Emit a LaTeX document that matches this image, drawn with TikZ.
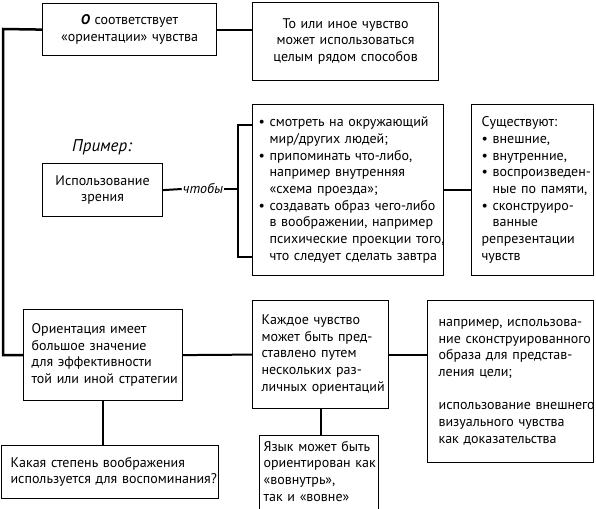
\documentclass[tikz,border=0pt]{standalone}
\usepackage{fontspec}
\setmainfont{PT Sans}
\usetikzlibrary{calc}
\tikzset{
  box/.style={draw, line width=1.2pt, inner ysep=4pt, anchor=north west,
    font=\fontsize{14}{16.7}\selectfont},
  link/.style={line width=2pt},
  trunk/.style={line width=2.5pt},
}
\def\bul{\textbullet\ }
\def\ind{\phantom{\textbullet\ }}
\newcommand\llines[1]{\begin{tabular}{@{}l@{}}#1\end{tabular}}
\newcommand\clines[1]{\begin{tabular}{@{}c@{}}#1\end{tabular}}

\begin{document}
\begin{tikzpicture}[x=1pt,y=-1pt]
			%%%%% START %%%%%
			\useasboundingbox (0,0) rectangle (596,508);

			\node[box, align=center, inner xsep=5pt, minimum width=174pt, minimum height=52pt, text width=164pt] (sense) at (42,3)
				{\clines{\textbf{\textit{О}} соответствует\\«ориентации» чувства}};
			\node[box, align=center, inner xsep=5pt, minimum width=186pt, minimum height=78pt, text width=176pt] (ways) at (252,2)
				{\clines{То или иное чувство\\может использоваться\\целым рядом способов}};

			\node[font=\fontsize{17}{18}\selectfont\itshape] (example) at (102,147) {Пример:};
			\node[box, align=center, inner xsep=5pt, minimum width=120pt, minimum height=53pt, text width=110pt] (sight) at (42,163)
				{\clines{Использование\\зрения}};
			\node[font=\fontsize{14}{16}\selectfont\itshape, inner sep=1pt] (sothat) at (203,189) {чтобы};

			\node[box, align=left, inner xsep=6pt, minimum width=191pt, minimum height=171pt, text width=179pt] (uses) at (252,104)
				{\llines{\bul смотреть на окружающий\\\ind мир/других людей;\\\bul припоминать что-либо,\\\ind например внутренняя\\\ind «схема проезда»;\\\bul создавать образ чего-либо\\\ind в воображении, например\\\ind психические проекции того,\\\ind что следует сделать завтра}};
			\node[box, align=left, inner xsep=10pt, minimum width=122pt, minimum height=171pt, text width=102pt] (kinds) at (471,104)
				{\llines{Существуют:\\\bul внешние,\\\bul внутренние,\\\bul воспроизведен-\\\ind ные по памяти,\\\bul сконструиро-\\\ind ванные\\репрезентации\\чувств}};

			\node[box, align=left, inner xsep=8pt, minimum width=159pt, minimum height=91pt, text width=143pt] (orient) at (23,309)
				{\llines{Ориентация имеет\\большое значение\\для эффективности\\той или иной стратегии}};
			\node[box, align=left, inner xsep=9pt, minimum width=136pt, minimum height=108pt, text width=118pt] (each) at (252,300)
				{\llines{Каждое чувство\\может быть пред-\\ставлено путем\\нескольких раз-\\личных ориентаций}};
			\node[box, align=left, inner xsep=11pt, minimum width=166pt, minimum height=162pt, text width=144pt] (goal) at (427,300)
				{\llines{например, использова-\\ние сконструированного\\образа для представ-\\ления цели;\\[16.7pt]использование внешнего\\визуального чувства\\как доказательства}};
			\node[box, align=left, inner xsep=4pt, minimum width=119pt, minimum height=72pt, text width=111pt] (lang) at (259,435)
				{\llines{Язык может быть\\ориентирован как\\«вовнутрь»,\\так и «вовне»}};
			\node[box, align=left, inner xsep=9pt, minimum width=217pt, minimum height=53pt, text width=199pt] (imag) at (1,445)
				{\llines{Какая степень воображения\\используется для воспоминания?}};

			\coordinate (top) at (3,29);
			\coordinate (brtop) at (238,125);
			\coordinate (brbot) at (238,257);

			\draw[trunk] (sense.west) -- (top) |- (orient.west);
			\draw[link] (sense.east) -- (sense.east -| ways.west);

			\draw[link] (sight.east) -- (sothat.west);
			\draw[link] (sothat.east) -- (sothat.east -| brtop);
			\draw[link] (brtop -| uses.west) -- (brtop) -- (brbot) -- (brbot -| uses.west);
			\draw[link] (uses.east) -- (kinds.west);

			\draw[link] (orient.east) -- (each.west);
			\draw[link] (each.east) -- (each.east -| goal.west);
			\draw[link] (orient.south) -- (orient.south |- imag.north);
			\draw[link] (each.south) -- (each.south |- lang.north);
			%%%%% END %%%%%
\end{tikzpicture}
\end{document}
